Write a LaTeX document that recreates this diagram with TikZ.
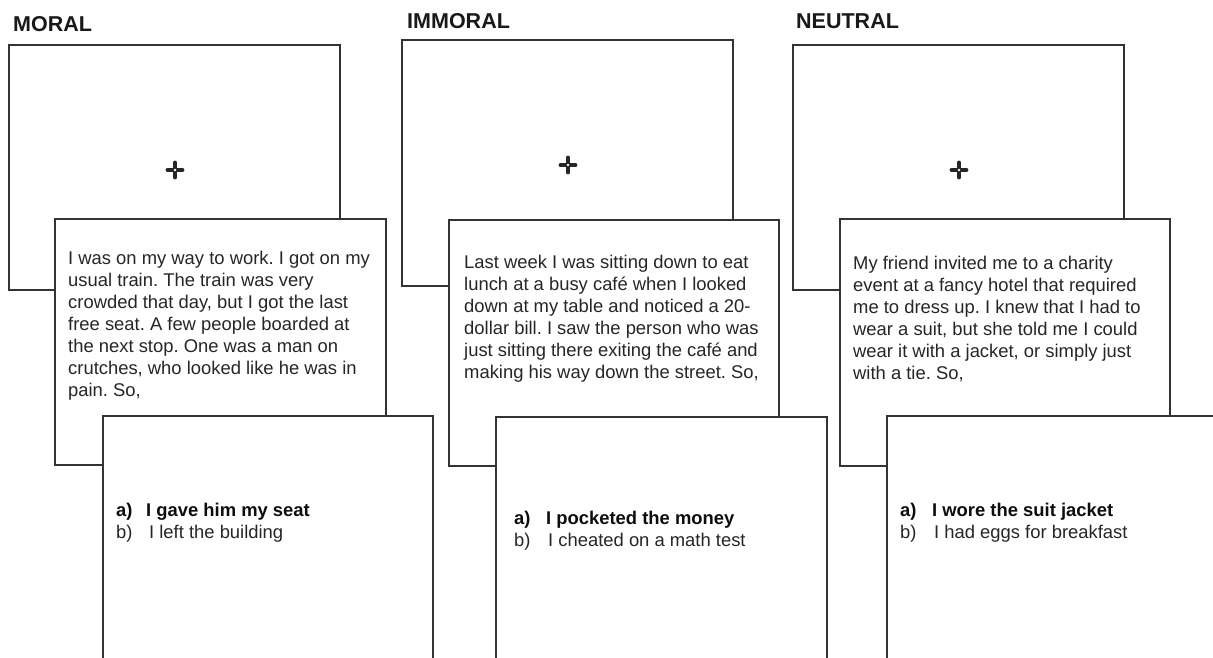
\documentclass[tikz,border=0pt]{standalone}
\usepackage{fontspec}
\setmainfont{Liberation Sans}
\frenchspacing
\begin{document}
\begin{tikzpicture}[x=1pt,y=-1pt,
  screen/.style={draw=black!80, line width=1.6pt, fill=white},
  title/.style={anchor=base west, inner sep=0pt, font=\fontsize{21.5}{24}\selectfont\bfseries, text=black!90},
  para/.style={anchor=base west, inner sep=0pt, align=left, font=\frenchspacing\fontsize{18.4}{21.9}\selectfont, text=black!85},
  choice/.style={anchor=base west, inner sep=0pt, font=\fontsize{18.4}{22}\selectfont, text=black!85},
  choiceb/.style={choice, font=\fontsize{18.4}{22}\selectfont\bfseries, text=black!95},
  fix/.style={line width=3.8pt, draw=black!85, line cap=round}]
\useasboundingbox (0,0) rectangle (1213,657);
\clip (0,0) rectangle (1213,657);
\fill[white] (0,0) rectangle (1213,657);

% ---------- MORAL ----------
\node[title] (tM) at (13,31) {MORAL};
\draw[screen] (9,45) rectangle (340,290);
\coordinate (cM) at (175,170);
\draw[fix] ([xshift=-7.5pt]cM) -- ([xshift=7.5pt]cM);
\draw[fix] ([yshift=-7.5pt]cM) -- ([yshift=7.5pt]cM);
\fill[white] (cM) circle (1.3pt);
\draw[screen] (55,219) rectangle (386,465);
% anchor base = baseline of last line
\node[para] (pM) at (68,396) {I was on my way to work. I got on my\\usual train. The train was very\\crowded that day, but I got the last\\free seat. A few people boarded at\\the next stop. One was a man on\\crutches, who looked like he was in\\pain. So,};
\draw[screen] (103,416) rectangle (433,720);
\node[choiceb] (aM) at (116,516) {a)};
\node[choiceb] (aMt) at (146,516) {I gave him my seat};
\node[choice] (bM) at (116,538) {b)};
\node[choice] (bMt) at (149,538) {I left the building};

% ---------- IMMORAL ----------
\node[title] (tI) at (407,28) {IMMORAL};
\draw[screen] (402,40) rectangle (733,286);
\coordinate (cI) at (568,165);
\draw[fix] ([xshift=-7.5pt]cI) -- ([xshift=7.5pt]cI);
\draw[fix] ([yshift=-7.5pt]cI) -- ([yshift=7.5pt]cI);
\fill[white] (cI) circle (1.3pt);
\draw[screen] (449,220) rectangle (779,466);
\node[para] (pI) at (464,378) {Last week I was sitting down to eat\\lunch at a busy café when I looked\\down at my table and noticed a 20-\\dollar bill. I saw the person who was\\just sitting there exiting the café and\\making his way down the street. So,};
\draw[screen] (496,417) rectangle (827,720);
\node[choiceb] (aI) at (514,524) {a)};
\node[choiceb] (aIt) at (546,524) {I pocketed the money};
\node[choice] (bI) at (514,546) {b)};
\node[choice] (bIt) at (548,546) {I cheated on a math test};

% ---------- NEUTRAL ----------
\node[title] (tN) at (796,28) {NEUTRAL};
\draw[screen] (793,45) rectangle (1124,290);
\coordinate (cN) at (959,170);
\draw[fix] ([xshift=-7.5pt]cN) -- ([xshift=7.5pt]cN);
\draw[fix] ([yshift=-7.5pt]cN) -- ([yshift=7.5pt]cN);
\fill[white] (cN) circle (1.3pt);
\draw[screen] (840,219) rectangle (1170,466);
\node[para] (pN) at (853,379) {My friend invited me to a charity\\event at a fancy hotel that required\\me to dress up. I knew that I had to\\wear a suit, but she told me I could\\wear it with a jacket, or simply just\\with a tie. So,};
\draw[screen] (887,416) rectangle (1240,720);
\node[choiceb] (aN) at (900,516) {a)};
\node[choiceb] (aNt) at (932,516) {I wore the suit jacket};
\node[choice] (bN) at (900,538) {b)};
\node[choice] (bNt) at (934,538) {I had eggs for breakfast};
\end{tikzpicture}
\end{document}
